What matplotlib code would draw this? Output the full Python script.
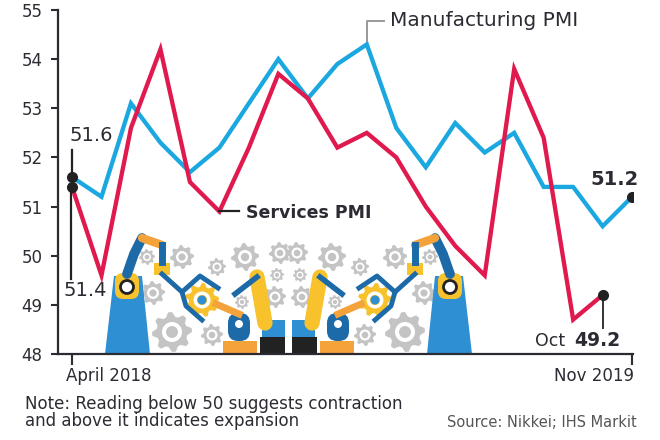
import numpy as np
import matplotlib
matplotlib.use('Agg')
import matplotlib.pyplot as plt
from matplotlib.patches import Polygon, Circle, FancyBboxPatch, Rectangle

# ── Data (India PMI, Apr 2018 → Nov 2019) ────────────────────
months = ['Apr 18', 'May 18', 'Jun 18', 'Jul 18', 'Aug 18', 'Sep 18',
          'Oct 18', 'Nov 18', 'Dec 18', 'Jan 19', 'Feb 19', 'Mar 19',
          'Apr 19', 'May 19', 'Jun 19', 'Jul 19', 'Aug 19', 'Sep 19',
          'Oct 19', 'Nov 19']
manufacturing = [51.6, 51.2, 53.1, 52.3, 51.7, 52.2, 53.1, 54.0, 53.2, 53.9,
                 54.3, 52.6, 51.8, 52.7, 52.1, 52.5, 51.4, 51.4, 50.6, 51.2]
services = [51.4, 49.6, 52.6, 54.2, 51.5, 50.9, 52.2, 53.7, 53.2, 52.2,
            52.5, 52.0, 51.0, 50.2, 49.6, 53.8, 52.4, 48.7, 49.2]
y_ticks = [48, 49, 50, 51, 52, 53, 54, 55]

BLUE = '#1ba8e0'
RED = '#e0194f'
DARK = '#2b2b33'
GREY_TXT = '#555555'

plt.rcParams['font.family'] = ['DejaVu Sans']

fig = plt.figure(figsize=(6.6, 4.4), dpi=100)
W, H = 660, 440

def px_box(x0, y0, x1, y1):
    # pixel box (top-left origin) -> figure fraction rect
    return [x0 / W, 1 - y1 / H, (x1 - x0) / W, (y1 - y0) / H]

# ── Decorative illustration (robots + gears) ─────────────────
ill = fig.add_axes(px_box(100, 225, 480, 354), zorder=0)
ill.set_xlim(0, 380)
ill.set_ylim(0, 129)
ill.axis('off')

GEAR = '#c4c4c4'
RB = '#2e8fd2'
RB_D = '#1c6aa8'
YEL = '#f7c22c'
ORG = '#f4a23a'
MIRROR = 377

def gear(ax, cx, cy, r, color=GEAR, n=8):
    ang = np.linspace(0, 2 * np.pi, n * 4, endpoint=False)
    rr = np.where((np.arange(n * 4) % 4) < 2, r, r * 0.78)
    pts = np.column_stack([cx + rr * np.cos(ang), cy + rr * np.sin(ang)])
    ax.add_patch(Polygon(pts, closed=True, fc=color, ec='none'))
    ax.add_patch(Circle((cx, cy), r * 0.5, fc='white', ec='none'))
    ax.add_patch(Circle((cx, cy), r * 0.3, fc=color, ec='none'))

grey_gears = [(72, 22, 20), (82, 97, 12), (53, 61, 12), (112, 19, 11),
              (145, 97, 14), (117, 87, 9), (47, 97, 8), (180, 101, 11),
              (177, 79, 7), (175, 57, 11), (142, 52, 7)]
for gx, gy, gr in grey_gears:
    gear(ill, gx, gy, gr)
    gear(ill, MIRROR - gx, gy, gr)

def robot_side(sign):
    def X(x):
        return x if sign > 0 else MIRROR - x
    # big base
    base = [(X(5), 0), (X(50), 0), (X(42), 78), (X(14), 78)]
    ill.add_patch(Polygon(base, closed=True, fc=RB, ec='none'))
    ill.add_patch(FancyBboxPatch((min(X(15), X(39)), 55), 24, 26,
                                 boxstyle='round,pad=0,rounding_size=8',
                                 fc=YEL, ec='none'))
    ill.add_patch(Circle((X(27), 67), 6.5, fc='white', ec='#222222', lw=2))
    # arm
    ill.plot([X(27), X(34), X(42)], [80, 100, 116], color=RB_D, lw=7,
             solid_capstyle='round')
    ill.plot([X(42), X(62)], [116, 109], color=ORG, lw=6,
             solid_capstyle='round')
    ill.plot([X(62), X(62)], [109, 92], color=RB_D, lw=5)
    ill.add_patch(Rectangle((min(X(54), X(70)), 79), 16, 12, fc=YEL,
                            ec='none'))
    ill.plot([X(62), X(82), X(100), X(118)], [80, 62, 78, 66], color=RB_D,
             lw=3.5)
    ill.plot([X(82), X(86), X(102)], [62, 48, 34], color=RB_D, lw=3.5)
    # yellow centre gear
    gear(ill, X(102), 54, 17, color=YEL, n=9)
    ill.add_patch(Circle((X(102), 54), 4.5, fc=RB, ec='none'))
    # small blue robot
    ill.add_patch(Rectangle((min(X(123), X(157)), 0), 34, 13, fc=ORG,
                            ec='none'))
    ill.add_patch(FancyBboxPatch((min(X(128), X(150)), 13), 22, 28,
                                 boxstyle='round,pad=0,rounding_size=10',
                                 fc=RB_D, ec='none'))
    ill.add_patch(Circle((X(139), 30), 4, fc='white', ec='none'))
    ill.plot([X(139), X(116)], [40, 50], color=ORG, lw=5)
    # yellow link arm
    ill.plot([X(157), X(165)], [77, 31], color=YEL, lw=11,
             solid_capstyle='round')
    ill.add_patch(Circle((X(157), 77), 3.5, fc='#222222', ec='none'))
    ill.add_patch(Circle((X(165), 31), 3.5, fc='#222222', ec='none'))
    ill.plot([X(157), X(135)], [77, 60], color=RB_D, lw=4)
    # pedestal + black box
    ill.add_patch(Rectangle((min(X(162), X(185)), 17), 23, 17, fc=RB,
                            ec='none'))
    ill.add_patch(Rectangle((min(X(160), X(185)), 0), 25, 17, fc='#222222',
                            ec='none'))

robot_side(1)
robot_side(-1)

# ── Main chart ───────────────────────────────────────────────
ax = fig.add_axes(px_box(58, 10, 633, 354), zorder=1)
ax.patch.set_alpha(0)

x_m = np.arange(len(manufacturing))
x_s = np.arange(len(services))

ax.plot(x_m, manufacturing, color=BLUE, lw=3.1, solid_joinstyle='miter',
        zorder=3)
ax.plot(x_s, services, color=RED, lw=3.1, solid_joinstyle='miter', zorder=4)

ax.set_xlim(-0.475, 19.03)
ax.set_ylim(48, 55)
ax.set_yticks(y_ticks)
ax.set_yticklabels([str(v) for v in y_ticks], fontsize=12, color=DARK)
ax.set_xticks([0, len(manufacturing) - 1])
ax.set_xticklabels(['', ''])
ax.tick_params(axis='y', length=5, width=1.5, color=DARK, pad=6)
ax.tick_params(axis='x', length=8, width=1.5, color=DARK)
for s in ['top', 'right']:
    ax.spines[s].set_visible(False)
for s in ['left', 'bottom']:
    ax.spines[s].set_color(DARK)
    ax.spines[s].set_linewidth(1.6)

trans_x = ax.get_xaxis_transform()
ax.text(0 - 0.2, -0.065, 'April 2018', transform=trans_x, ha='left',
        va='center', fontsize=12, color=DARK)
ax.text(len(manufacturing) - 1 + 0.05, -0.065, 'Nov 2019', transform=trans_x,
        ha='right', va='center', fontsize=12, color=DARK)

# start / end markers and labels
last = len(manufacturing) - 1
ax.plot([0, 0], [manufacturing[0], manufacturing[0] + 0.55], color='#222222',
        lw=1.6, zorder=5)
ax.plot(0, manufacturing[0], 'o', color='#222222', ms=7, zorder=6)
ax.text(-0.1, manufacturing[0] + 0.85, f'{manufacturing[0]}', ha='left',
        va='center', fontsize=14, color=DARK)

ax.plot([-0.05, -0.05], [services[0], services[0] - 1.88], color='#222222',
        lw=1.6, zorder=5)
ax.plot(0, services[0], 'o', color='#222222', ms=7, zorder=6)
ax.text(-0.3, services[0] - 2.1, f'{services[0]}', ha='left', va='center',
        fontsize=14, color=DARK)

ax.plot(last, manufacturing[-1], 'o', color='#222222', ms=7, zorder=6)
ax.text(last - 0.6, manufacturing[-1] + 0.36, f'{manufacturing[-1]}',
        ha='center', va='center', fontsize=14, fontweight='bold', color=DARK)

so = len(services) - 1
ax.plot([so, so], [services[-1], services[-1] - 0.67], color='#333333',
        lw=1.4, zorder=5)
ax.plot(so, services[-1], 'o', color='#222222', ms=7, zorder=6)
ax.text(so - 1.27, services[-1] - 0.93, 'Oct', ha='right', va='center',
        fontsize=12.5, color=DARK)
ax.text(so + 0.6, services[-1] - 0.93, f'{services[-1]}', ha='right',
        va='center', fontsize=13.5, fontweight='bold', color=DARK)

# series labels with leader lines
pk = int(np.argmax(manufacturing))
ax.plot([pk, pk, pk + 0.58], [manufacturing[pk], 54.78, 54.78],
        color='#999999', lw=1.4, zorder=2)
ax.text(pk + 0.8, 54.78, 'Manufacturing PMI', ha='left', va='center',
        fontsize=14.5, color=DARK)

ax.plot([5, 5.65], [services[5], services[5]], color='#222222', lw=1.6,
        zorder=5)
ax.text(5.9, services[5] - 0.04, 'Services PMI', ha='left', va='center',
        fontsize=12.5, fontweight='bold', color=DARK)

# ── Footnotes ────────────────────────────────────────────────
fig.text(25 / W, 1 - 404 / H, 'Note: Reading below 50 suggests contraction',
         ha='left', va='center', fontsize=12, color=DARK)
fig.text(25 / W, 1 - 421 / H, 'and above it indicates expansion',
         ha='left', va='center', fontsize=12, color=DARK)
fig.text(637 / W, 1 - 422 / H, 'Source: Nikkei; IHS Markit', ha='right',
         va='center', fontsize=10.5, color=GREY_TXT)

fig.savefig('out.png', dpi=100)
